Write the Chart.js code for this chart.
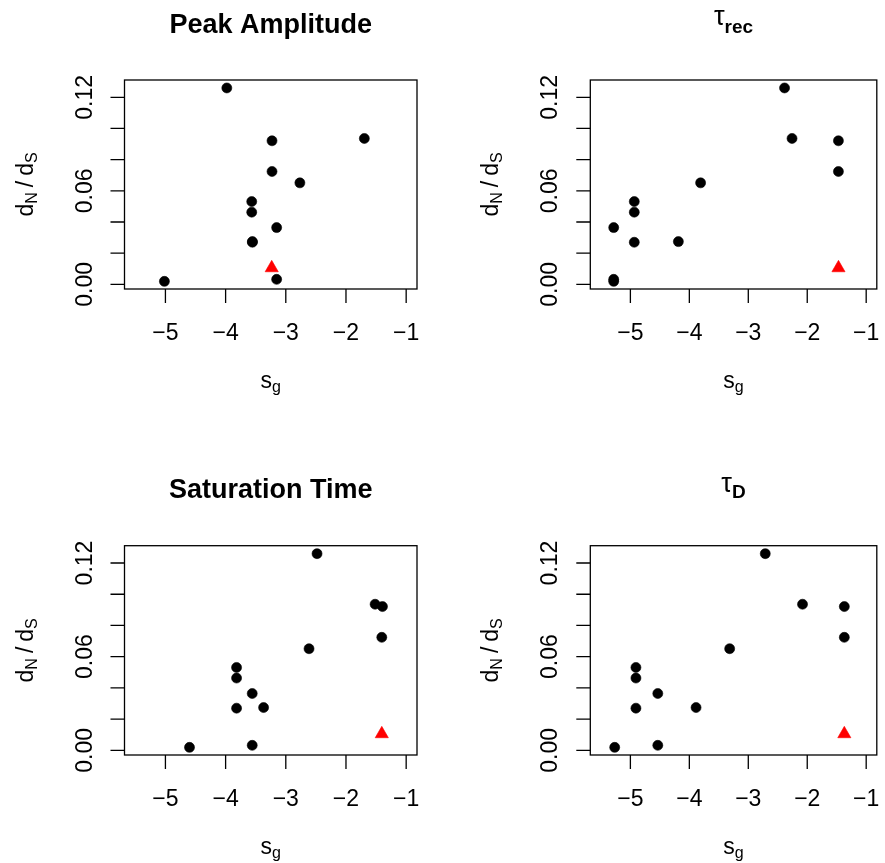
<!DOCTYPE html>
<html>
<head>
<meta charset="utf-8">
<script src="https://cdn.jsdelivr.net/npm/chart.js@4/dist/chart.umd.min.js"></script>
<style>
  html, body { margin: 0; padding: 0; background: #ffffff; }
  #wrap { position: relative; width: 885px; height: 863px; }
  #wrap canvas { position: absolute; left: 0; top: 0; }
</style>
</head>
<body>
<div id="wrap"></div>
<script>
// dN/dS per gene (same order in every panel)
const dnds = [0.1260, 0.0936, 0.0921, 0.0724, 0.0651, 0.0531, 0.0463, 0.0364, 0.0270, 0.0274, 0.0019, 0.0032];
// reference gene, drawn as a red triangle
const dndsRef = 0.0105;

// s_g values per gene for each trait
const sgPeakAmplitude  = [-3.98, -1.695, -3.229, -3.229, -2.766, -3.566, -3.566, -3.152, -3.555, -3.555, -5.017, -3.152];
const sgTauRec         = [-2.385, -2.258, -1.471, -1.471, -3.809, -4.934, -4.934, -5.283, -4.934, -4.186, -5.283, -5.283];
const sgSaturationTime = [-2.481, -1.516, -1.394, -1.405, -2.614, -3.818, -3.818, -3.558, -3.818, -3.369, -4.600, -3.558];
const sgTauD           = [-2.712, -2.080, -1.371, -1.371, -3.316, -4.906, -4.906, -4.535, -4.906, -3.886, -5.266, -4.535];

const refPeakAmplitude  = -3.234;
const refTauRec         = -1.470;
const refSaturationTime = -1.405;
const refTauD           = -1.371;

// axis ticks
const xTicks = [-5, -4, -3, -2, -1];
const yTicks = [0, 0.02, 0.04, 0.06, 0.08, 0.10, 0.12];
const yTickLabels = ['0.00', '0.06', '0.12'];
const yLabelledTicks = [0, 0.06, 0.12];

const X_RANGE = [-5.68, -0.82];
const Y_RANGE = [-0.003, 0.1311];

const FONT = "'Liberation Sans', Arial, Helvetica, sans-serif";
const W = 885, H = 863;

const panels = [
  { title: [{ t: 'Peak Amplitude', size: 27, weight: 'bold' }],
    xs: sgPeakAmplitude, ref: refPeakAmplitude,
    box: { l: 124.5, t: 80, r: 417, b: 289 } },
  { title: [{ t: '\u03C4', size: 27, weight: 'normal', dy: -8 }, { t: 'rec', size: 19, weight: 'bold', dy: 0 }],
    xs: sgTauRec, ref: refTauRec,
    box: { l: 590.3, t: 80, r: 883.3, b: 289 } },
  { title: [{ t: 'Saturation Time', size: 27, weight: 'bold' }],
    xs: sgSaturationTime, ref: refSaturationTime,
    box: { l: 124.5, t: 545.7, r: 417, b: 755 } },
  { title: [{ t: '\u03C4', size: 27, weight: 'normal', dy: -6 }, { t: 'D', size: 19, weight: 'bold', dy: 0 }],
    xs: sgTauD, ref: refTauD,
    box: { l: 590.3, t: 545.7, r: 883.3, b: 755 } }
];

// draw a run of text pieces (with subscripts) centred on x, baseline y
function drawPieces(ctx, pieces, cx, y) {
  let total = 0;
  const widths = pieces.map(p => {
    ctx.font = `${p.weight || 'normal'} ${p.size}px ${FONT}`;
    const w = ctx.measureText(p.t).width + (p.gapBefore || 0) + (p.gapAfter || 0);
    total += w;
    return w;
  });
  let x = cx - total / 2;
  ctx.textAlign = 'left';
  ctx.textBaseline = 'alphabetic';
  pieces.forEach((p, i) => {
    ctx.font = `${p.weight || 'normal'} ${p.size}px ${FONT}`;
    ctx.fillText(p.t, x + (p.gapBefore || 0), y + (p.dy || 0));
    x += widths[i];
  });
}

const rAxes = {
  id: 'rAxes',
  afterDraw(chart, args, opts) {
    const ctx = chart.ctx;
    const area = chart.chartArea;
    const xs = chart.scales.x, ys = chart.scales.y;
    const tick = 14;
    ctx.save();
    ctx.strokeStyle = '#000';
    ctx.fillStyle = '#000';
    ctx.lineWidth = 1.3;

    // plot box
    ctx.strokeRect(area.left, area.top, area.right - area.left, area.bottom - area.top);

    // x axis ticks
    ctx.beginPath();
    xTicks.forEach(v => {
      const px = xs.getPixelForValue(v);
      ctx.moveTo(px, area.bottom);
      ctx.lineTo(px, area.bottom + tick);
    });
    // y axis ticks
    yTicks.forEach(v => {
      const py = ys.getPixelForValue(v);
      ctx.moveTo(area.left, py);
      ctx.lineTo(area.left - tick, py);
    });
    ctx.stroke();

    // x tick labels
    ctx.font = `23px ${FONT}`;
    ctx.textAlign = 'center';
    ctx.textBaseline = 'alphabetic';
    xTicks.forEach(v => {
      const px = xs.getPixelForValue(v);
      ctx.fillText(v < 0 ? '\u2212' + Math.abs(v) : String(v), px, area.bottom + 51);
    });

    // y tick labels, rotated
    yLabelledTicks.forEach((v, i) => {
      const py = ys.getPixelForValue(v);
      ctx.save();
      ctx.translate(area.left - 33, py);
      ctx.rotate(-Math.PI / 2);
      ctx.font = `23px ${FONT}`;
      ctx.textAlign = 'center';
      ctx.textBaseline = 'alphabetic';
      ctx.fillText(yTickLabels[i], 0, 0);
      ctx.restore();
    });

    // x axis title: s_g
    const cx = (area.left + area.right) / 2;
    drawPieces(ctx, [
      { t: 's', size: 23 },
      { t: 'g', size: 16, dy: 4 }
    ], cx, area.bottom + 99);

    // y axis title: d_N / d_S
    ctx.save();
    ctx.translate(area.left - 92, (area.top + area.bottom) / 2);
    ctx.rotate(-Math.PI / 2);
    drawPieces(ctx, [
      { t: 'd', size: 23 },
      { t: 'N', size: 16, dy: 4 },
      { t: '/', size: 23, gapBefore: 5, gapAfter: 5 },
      { t: 'd', size: 23 },
      { t: 'S', size: 16, dy: 4 }
    ], 0, 0);
    ctx.restore();

    // panel title
    drawPieces(ctx, opts.title, cx, area.top - 47.5);
    ctx.restore();
  }
};

const wrap = document.getElementById('wrap');

panels.forEach(p => {
  const canvas = document.createElement('canvas');
  canvas.width = W;
  canvas.height = H;
  canvas.style.width = W + 'px';
  canvas.style.height = H + 'px';
  wrap.appendChild(canvas);

  new Chart(canvas.getContext('2d'), {
    type: 'scatter',
    data: {
      datasets: [
        {
          data: p.xs.map((x, i) => ({ x: x, y: dnds[i] })),
          pointStyle: 'circle',
          pointRadius: 5,
          pointBorderWidth: 0.6,
          backgroundColor: '#000000',
          borderColor: '#000000',
          clip: false
        },
        {
          data: [{ x: p.ref, y: dndsRef }],
          pointStyle: 'triangle',
          pointRadius: 7.6,
          pointBorderWidth: 0.6,
          backgroundColor: '#ff0000',
          borderColor: '#ff0000',
          clip: false
        }
      ]
    },
    options: {
      responsive: false,
      animation: false,
      events: [],
      devicePixelRatio: 1,
      layout: { padding: { left: p.box.l, top: p.box.t, right: W - p.box.r, bottom: H - p.box.b } },
      scales: {
        x: { type: 'linear', min: X_RANGE[0], max: X_RANGE[1], display: false },
        y: { type: 'linear', min: Y_RANGE[0], max: Y_RANGE[1], display: false }
      },
      plugins: {
        legend: { display: false },
        tooltip: { enabled: false },
        title: { display: false },
        rAxes: { title: p.title }
      }
    },
    plugins: [rAxes]
  });
});
</script>
</body>
</html>
